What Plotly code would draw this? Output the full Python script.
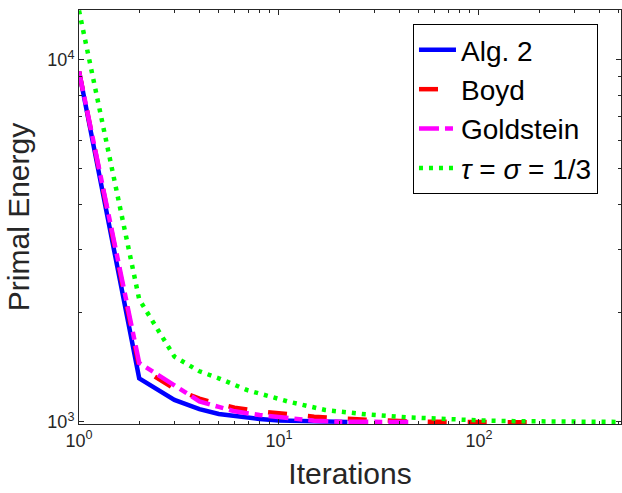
import plotly.graph_objects as go
import math

# ---- data ----
alg2_x = [1, 2, 3, 4, 5, 6, 8, 10, 12, 15, 18, 22]
alg2_y = [9300, 1320, 1150, 1085, 1052, 1037, 1019, 1010, 1006, 1003, 1001, 1000]

boyd_x = [1, 2, 3, 4, 5, 6, 8, 10, 15, 20, 25, 40, 60, 100, 180]
boyd_y = [9300, 1420, 1235, 1160, 1120, 1095, 1070, 1056, 1034, 1022, 1016, 1006, 1001, 999, 998]

gold_x = [1, 2, 3, 4, 5, 6, 8, 10, 15, 20, 30, 46]
gold_y = [9300, 1455, 1262, 1140, 1100, 1070, 1045, 1033, 1008, 1002, 1000, 999]

tau_x = [1, 2, 3, 4, 5, 6, 7, 8, 10, 11, 17, 27, 44, 70, 100, 150, 250, 520]
tau_y = [13700, 2180, 1515, 1380, 1320, 1265, 1222, 1198, 1160, 1140, 1079, 1050, 1030, 1017, 1010, 1005, 1001, 1000]

names = ["Alg. 2", "Boyd", "Goldstein", "<i>τ</i> = <i>σ</i> = 1/3"]

x_major = [1, 10, 100]
x_major_text = ["10<sup>0</sup>", "10<sup>1</sup>", "10<sup>2</sup>"]
x_minor = [2, 3, 4, 5, 6, 7, 8, 9, 20, 30, 40, 50, 60, 70, 80, 90, 200, 300, 400, 500]
y_major = [1000, 10000]
y_major_text = ["10<sup>3</sup>", "10<sup>4</sup>"]
y_minor = [2000, 3000, 4000, 5000, 6000, 7000, 8000, 9000]

x_range = [1, 513]
y_range = [987, 13740]

# ---- figure ----
axis_color = "#262626"
font_family = "Liberation Sans, Arial, sans-serif"
lw = 4.5

fig = go.Figure()
fig.add_trace(go.Scatter(x=alg2_x, y=alg2_y, mode="lines", name=names[0], legendgroup="a",
                         line=dict(color="#0000ff", width=lw)))
fig.add_trace(go.Scatter(x=boyd_x, y=boyd_y, mode="lines", name=names[1], legendgroup="b",
                         line=dict(color="#ff0000", width=lw, dash="19px,21px")))
fig.add_trace(go.Scatter(x=gold_x, y=gold_y, mode="lines", name=names[2], legendgroup="c",
                         line=dict(color="#ff00ff", width=lw, dash="20px,6px,8px,6px")))
fig.add_trace(go.Scatter(x=tau_x, y=tau_y, mode="lines", name=names[3], legendgroup="d",
                         line=dict(color="#00ff00", width=lw, dash="4px,6px")))

common = dict(
    type="log", showline=True, linecolor=axis_color, linewidth=1, mirror="ticks",
    ticks="inside", ticklen=5, tickwidth=1, tickcolor=axis_color,
    showgrid=False, zeroline=False, automargin=False,
    tickfont=dict(family=font_family, size=18, color=axis_color),
    tickmode="array",
)

fig.update_layout(
    width=622, height=493,
    margin=dict(l=79, r=1, t=10, b=69),
    paper_bgcolor="white", plot_bgcolor="white",
    font=dict(family=font_family, color=axis_color),
    xaxis=dict(**common,
               range=[math.log10(x_range[0]), math.log10(x_range[1])],
               tickvals=x_major, ticktext=x_major_text,
               minor=dict(tickvals=x_minor, ticks="inside", ticklen=3, tickcolor=axis_color, showgrid=False),
               title=dict(text="Iterations", font=dict(family=font_family, size=30, color=axis_color), standoff=13)),
    yaxis=dict(**common,
               range=[math.log10(y_range[0]), math.log10(y_range[1])],
               tickvals=y_major, ticktext=y_major_text,
               minor=dict(tickvals=y_minor, ticks="inside", ticklen=3, tickcolor=axis_color, showgrid=False),
               title=dict(text="Primal Energy", font=dict(family=font_family, size=30, color=axis_color), standoff=8)),
    legend=dict(
        x=0.6162, y=0.966, xanchor="left", yanchor="top",
        bgcolor="white", bordercolor="#000000", borderwidth=1,
        font=dict(family=font_family, size=28, color="#000000"),
        traceorder="grouped", tracegroupgap=0, itemwidth=37,
        entrywidth=150, entrywidthmode="pixels",
    ),
    showlegend=True,
)

fig.write_html("out.html", config={"displayModeBar": False},
               post_script="document.body.style.margin='0';document.body.style.overflow='hidden';")
